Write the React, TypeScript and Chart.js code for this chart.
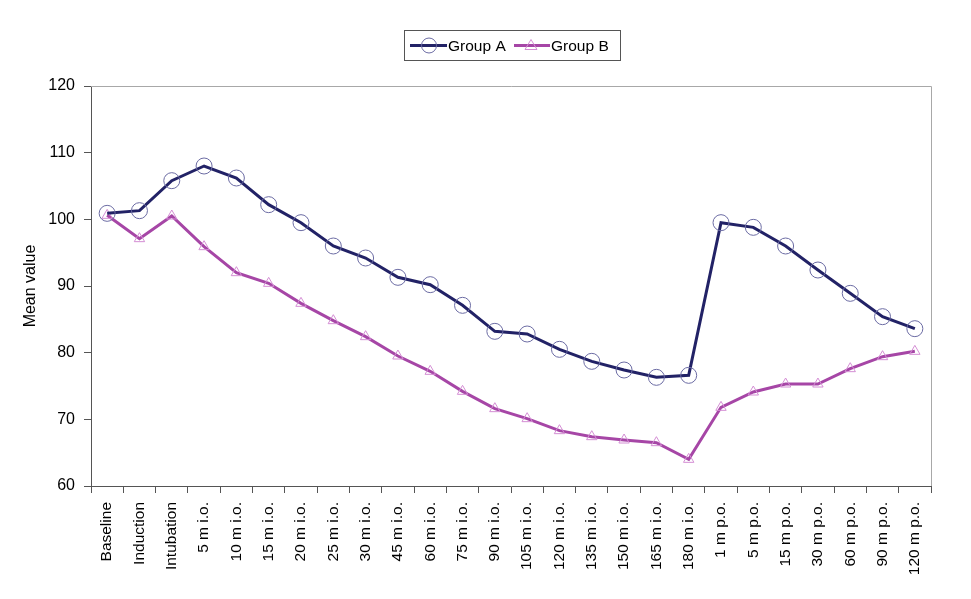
import React, { useEffect, useRef } from "react";
import { Chart, registerables } from "chart.js";

Chart.register(...registerables);

const labels = [
  "Baseline", "Induction", "Intubation", "5 m i.o.", "10 m i.o.", "15 m i.o.", "20 m i.o.",
  "25 m i.o.", "30 m i.o.", "45 m i.o.", "60 m i.o.", "75 m i.o.", "90 m i.o.", "105 m i.o.",
  "120 m i.o.", "135 m i.o.", "150 m i.o.", "165 m i.o.", "180 m i.o.", "1 m p.o.", "5 m p.o.",
  "15 m p.o.", "30 m p.o.", "60 m p.o.", "90 m p.o.", "120 m p.o.",
];

const groupA = [
  100.9, 101.3, 105.8, 108.0, 106.2, 102.2, 99.5, 96.0, 94.2, 91.3, 90.2, 87.1, 83.2,
  82.8, 80.5, 78.7, 77.4, 76.3, 76.6, 99.5, 98.8, 96.0, 92.4, 88.9, 85.4, 83.6,
];
const groupB = [
  100.6, 97.1, 100.5, 95.9, 92.0, 90.4, 87.4, 84.8, 82.4, 79.5, 77.2, 74.2, 71.6,
  70.1, 68.3, 67.4, 66.9, 66.5, 64.0, 71.8, 74.1, 75.3, 75.3, 77.6, 79.4, 80.2,
];
const yTicks = [60, 70, 80, 90, 100, 110, 120];

const NAVY = "#222266";
const NAVY_MARK = "#6b6ba3";
const PURPLE = "#a646a6";
const PURPLE_MARK = "#d48ed4";
const FONT = "'Liberation Sans', Arial, sans-serif";

const frameAndLegend = {
  id: "frameAndLegend",
  afterDraw(chart: any) {
    const { ctx, chartArea } = chart;
    ctx.save();
    // top & right frame
    ctx.strokeStyle = "#a8a8a8";
    ctx.lineWidth = 1;
    ctx.beginPath();
    ctx.moveTo(chartArea.left, chartArea.top + 0.5);
    ctx.lineTo(chartArea.right + 0.5, chartArea.top + 0.5);
    ctx.lineTo(chartArea.right + 0.5, chartArea.bottom);
    ctx.stroke();

    // legend box
    const bx = 404, by = 30, bw = 216, bh = 30;
    ctx.strokeStyle = "#555555";
    ctx.lineWidth = 1;
    ctx.strokeRect(bx + 0.5, by + 0.5, bw, bh);
    const cy = by + bh / 2 + 0.5;
    ctx.font = `15.5px ${FONT}`;
    ctx.textBaseline = "middle";
    ctx.textAlign = "left";
    // Group A
    ctx.strokeStyle = NAVY;
    ctx.lineWidth = 3;
    ctx.beginPath();
    ctx.moveTo(410, cy);
    ctx.lineTo(447, cy);
    ctx.stroke();
    ctx.strokeStyle = NAVY_MARK;
    ctx.lineWidth = 1;
    ctx.beginPath();
    ctx.arc(429, cy, 7.5, 0, Math.PI * 2);
    ctx.stroke();
    ctx.fillStyle = "#000";
    ctx.fillText("Group A", 448, cy + 1);
    // Group B
    ctx.strokeStyle = PURPLE;
    ctx.lineWidth = 3;
    ctx.beginPath();
    ctx.moveTo(514, cy);
    ctx.lineTo(550, cy);
    ctx.stroke();
    ctx.strokeStyle = PURPLE_MARK;
    ctx.lineWidth = 1;
    ctx.beginPath();
    ctx.moveTo(531, cy - 6);
    ctx.lineTo(537, cy + 4);
    ctx.lineTo(525, cy + 4);
    ctx.closePath();
    ctx.stroke();
    ctx.fillStyle = "#000";
    ctx.fillText("Group B", 551, cy + 1);
    ctx.restore();
  },
};

export default function App() {
  const ref = useRef<HTMLCanvasElement | null>(null);
  useEffect(() => {
    document.body.style.margin = "0";
    const chart = new Chart(ref.current as HTMLCanvasElement, {
      type: "line",
      data: {
        labels,
        datasets: [
          {
            label: "Group A",
            data: groupA,
            borderColor: NAVY,
            borderWidth: 3,
            pointStyle: "circle",
            pointRadius: 8,
            pointBorderWidth: 1,
            pointBorderColor: NAVY_MARK,
            pointBackgroundColor: "rgba(0,0,0,0)",
            tension: 0,
          },
          {
            label: "Group B",
            data: groupB,
            borderColor: PURPLE,
            borderWidth: 3,
            pointStyle: "triangle",
            pointRadius: 6,
            pointBorderWidth: 1,
            pointBorderColor: PURPLE_MARK,
            pointBackgroundColor: "rgba(0,0,0,0)",
            tension: 0,
          },
        ],
      },
      options: {
        animation: false,
        responsive: true,
        maintainAspectRatio: false,
        layout: { padding: { left: 0, right: 40, top: 86, bottom: 0 } },
        plugins: {
          legend: { display: false },
          tooltip: { enabled: false },
        },
        scales: {
          x: {
            type: "category",
            offset: true,
            grid: {
              offset: true,
              drawOnChartArea: false,
              drawTicks: true,
              tickLength: 7,
              color: "#555555",
            },
            border: { color: "#555555", width: 1 },
            ticks: {
              maxRotation: 90,
              minRotation: 90,
              autoSkip: false,
              padding: 9,
              color: "#000",
              font: { family: FONT, size: 15.5 },
            },
            afterFit(scale: any) {
              scale.height = 113;
            },
          },
          y: {
            min: 60,
            max: 120,
            afterBuildTicks(scale: any) {
              scale.ticks = yTicks.map((v) => ({ value: v }));
            },
            grid: {
              drawOnChartArea: false,
              drawTicks: true,
              tickLength: 7,
              color: "#555555",
            },
            border: { color: "#555555", width: 1 },
            ticks: {
              padding: 9,
              color: "#000",
              font: { family: FONT, size: 16 },
            },
            title: {
              display: true,
              text: "Mean value",
              color: "#000",
              font: { family: FONT, size: 16 },
              padding: { top: 21, bottom: 0 },
            },
            afterFit(scale: any) {
              scale.width = 91;
            },
          },
        },
      },
      plugins: [frameAndLegend],
    });
    return () => chart.destroy();
  }, []);
  return (
    <div style={{ position: "fixed", left: 0, top: 0, width: 971, height: 599 }}>
      <canvas ref={ref} />
    </div>
  );
}
